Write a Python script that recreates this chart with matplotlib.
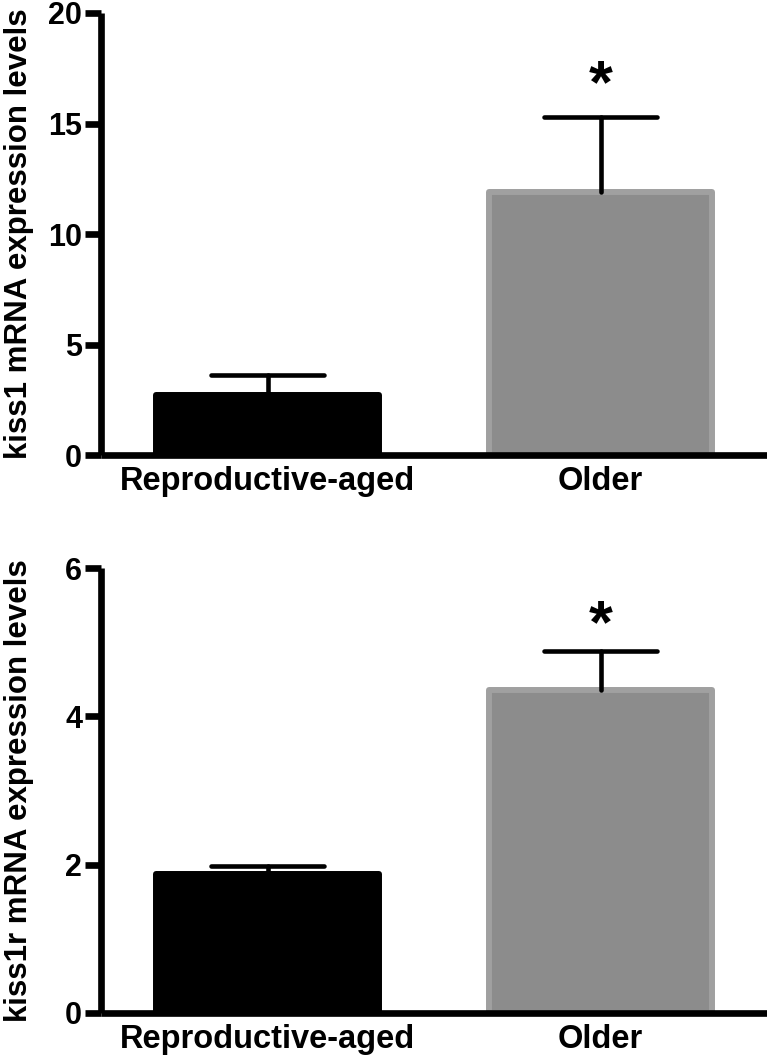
import matplotlib
matplotlib.use("Agg")
import matplotlib.pyplot as plt

plt.rcParams['font.family'] = ['Liberation Sans', 'DejaVu Sans']
plt.rcParams['font.weight'] = 'bold'

groups = ["Reproductive-aged", "Older"]
kiss1_mean = [2.7, 11.9]
kiss1_sem = [0.9, 3.4]
kiss1r_mean = [1.88, 4.36]
kiss1r_sem = [0.1, 0.52]
star_kiss1 = 15.95
star_kiss1r = 5.0
ylabels = ["kiss1 mRNA expression levels", "kiss1r mRNA expression levels"]
yticks_top = [0, 5, 10, 15, 20]
yticks_bot = [0, 2, 4, 6]

W, H = 767, 1059
fig = plt.figure(figsize=(W / 100, H / 100), dpi=100)

left = 101 / W
width = (W - 101) / W
ax1 = fig.add_axes([left, 1 - 455 / H, width, (455 - 13) / H])
ax2 = fig.add_axes([left, 1 - 1013 / H, width, (1013 - 568) / H])

face = ["black", "#8c8c8c"]
edge = ["black", "#a0a0a0"]
bw = 0.67
spine_lw = 4.8


def panel(ax, means, sems, star_y, yticks, ylabel):
    x = list(range(len(groups)))
    ax.bar(x, means, width=bw, color=face, edgecolor=edge, linewidth=4.3,
           joinstyle='round', zorder=2)
    tops = [m + s for m, s in zip(means, sems)]
    ax.vlines(x, means, tops, color='black', linewidth=3.3, capstyle='round', zorder=3)
    ax.hlines(tops, [xi - 0.171 for xi in x], [xi + 0.171 for xi in x],
              color='black', linewidth=3.3, capstyle='round', zorder=3)
    ax.text(x[1], star_y, "*", ha='center', va='baseline', fontsize=44,
            fontweight='bold')
    ax.set_xlim(-0.5, 1.5)
    ax.set_ylim(yticks[0], yticks[-1])
    ax.set_yticks(yticks)
    ax.set_xticks(x)
    ax.set_xticklabels(groups, fontsize=23.5, fontweight='bold')
    ax.tick_params(axis='x', length=0, pad=8)
    ax.tick_params(axis='y', length=11.5, width=spine_lw, labelsize=22, pad=2)
    for lab in ax.get_yticklabels():
        lab.set_fontweight('bold')
    for s in ['top', 'right']:
        ax.spines[s].set_visible(False)
    for s in ['left', 'bottom']:
        ax.spines[s].set_linewidth(spine_lw)
        ax.spines[s].set_capstyle('butt')
    ax.set_ylabel(ylabel, fontsize=22.5, fontweight='bold')
    ax.yaxis.set_label_coords(-0.1, 0.5)
    for sp in ax.spines.values():
        sp.set_clip_on(False)


panel(ax1, kiss1_mean, kiss1_sem, star_kiss1, yticks_top, ylabels[0])
panel(ax2, kiss1r_mean, kiss1r_sem, star_kiss1r, yticks_bot, ylabels[1])

fig.savefig("out.png", dpi=100)
